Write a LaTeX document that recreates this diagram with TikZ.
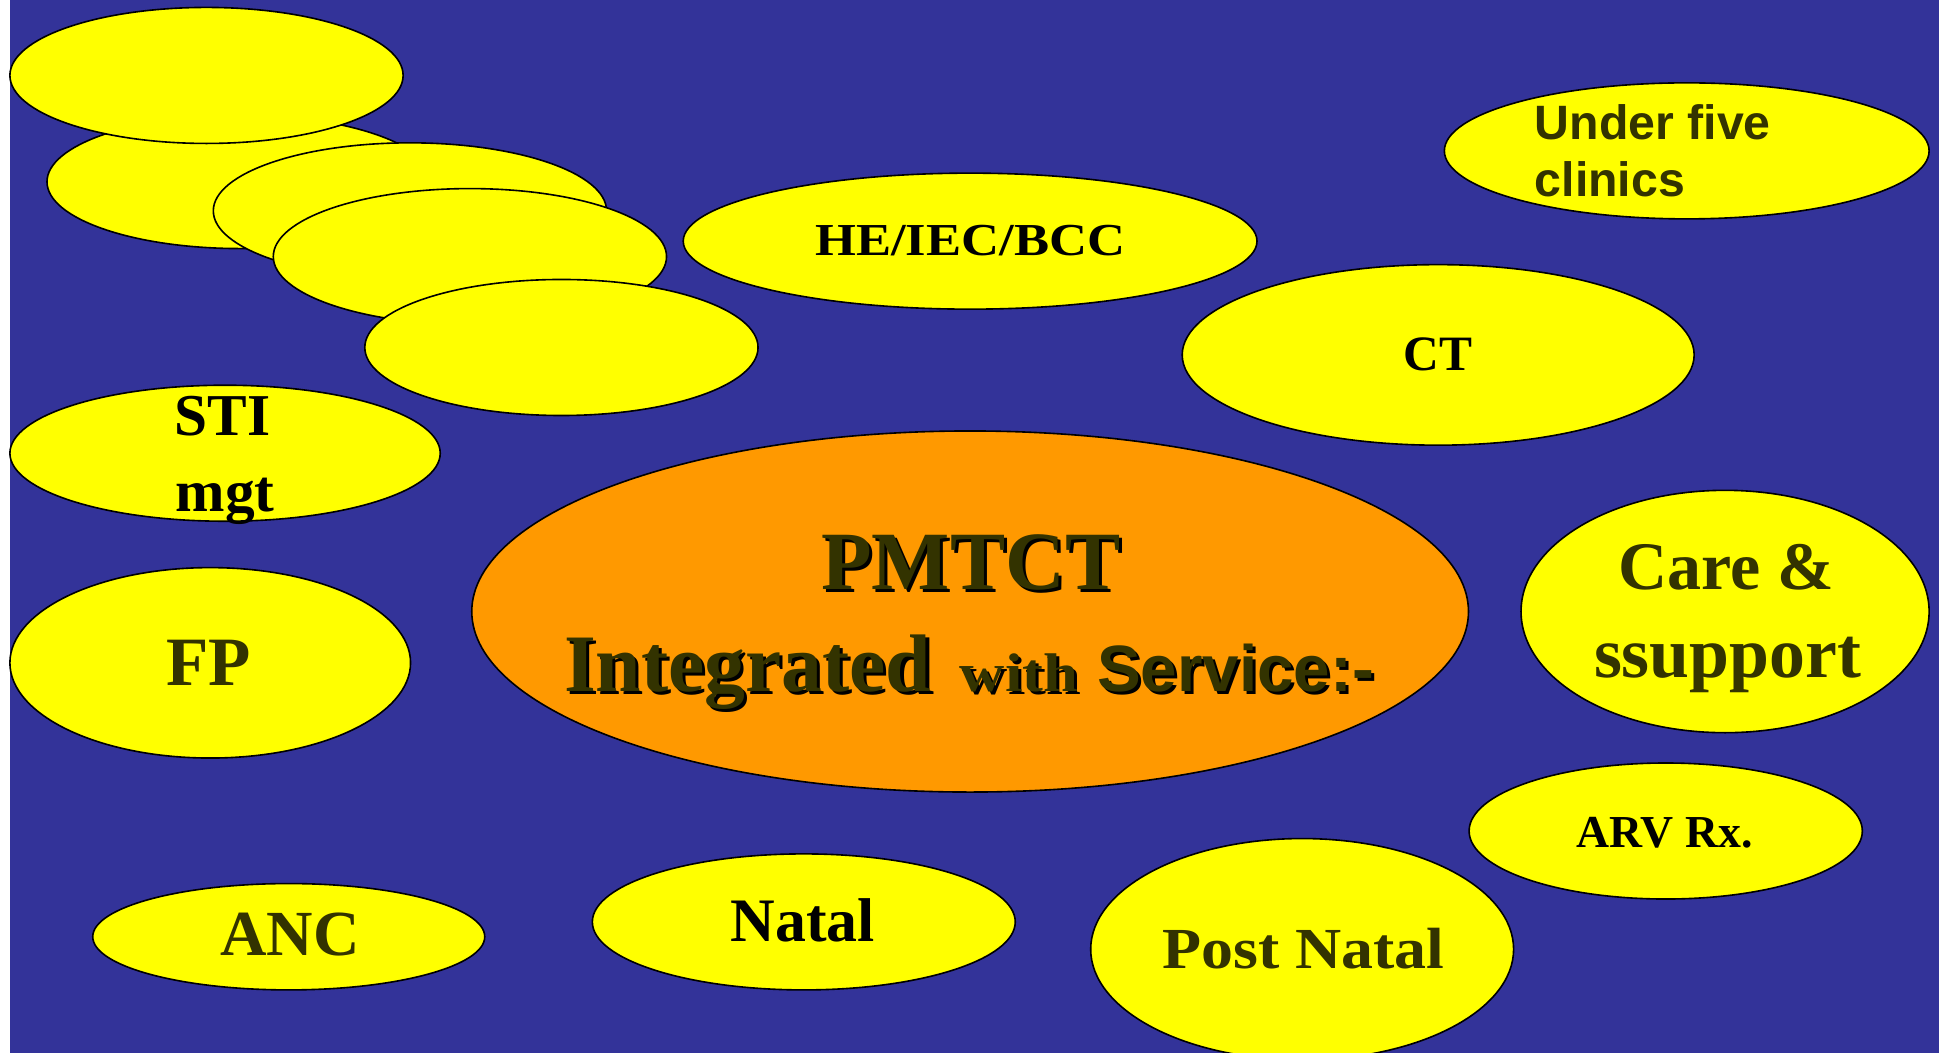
\documentclass[tikz,border=0pt]{standalone}
\usepackage{fontspec}
\setmainfont{Liberation Serif}
\setsansfont{Liberation Sans}
\usetikzlibrary{shapes.geometric}
\definecolor{bg}{HTML}{333399}
\definecolor{yel}{HTML}{FFFF00}
\definecolor{org}{HTML}{FF9900}
\definecolor{olive}{HTML}{333300}
\newcommand\fsz[1]{\fontsize{#1}{#1}\selectfont\bfseries}
\newcommand\hsc[2]{\scalebox{#1}[1]{#2}}
\begin{document}
\begin{tikzpicture}[x=1pt,y=-1pt,
  blob/.style={ellipse, draw=black, line width=1.3pt, fill=yel, inner sep=0pt},
  lbl/.style={anchor=base, inner sep=0pt, text=black},
  olbl/.style={lbl, text=olive},
  shd/.style={lbl, text=black},
]
\useasboundingbox (0,0) rectangle (1568,851.5);
\clip (0,0) rectangle (1568,851.5);
\fill[white] (0,0) rectangle (1568,851.5);
\fill[bg] (8,0) rectangle (1568,851.5);

% stacked unlabeled ellipses
\node[blob, minimum width=312pt, minimum height=108pt] (eB) at (194,147) {};
\node[blob, minimum width=318pt, minimum height=110pt] (eA) at (167,61) {};
\node[blob, minimum width=318pt, minimum height=110pt] (eC) at (331.5,170.5) {};
\node[blob, minimum width=318pt, minimum height=110pt] (eD) at (380,207.5) {};
\node[blob, minimum width=318pt, minimum height=110pt] (eE) at (454,281) {};

% labelled ellipses
\node[blob, minimum width=348pt, minimum height=110pt] (sti) at (182,366.5) {};
\node[blob, minimum width=464pt, minimum height=110pt] (he) at (784.5,195) {};
\node[blob, minimum width=392pt, minimum height=110pt] (u5) at (1364,122) {};
\node[blob, minimum width=414pt, minimum height=146pt] (ct) at (1163,287) {};
\node[blob, fill=org, minimum width=806pt, minimum height=292pt] (pm) at (784.5,494.5) {};
\node[blob, minimum width=324pt, minimum height=154pt] (fp) at (170,536) {};
\node[blob, minimum width=330pt, minimum height=196pt] (care) at (1395,494.5) {};
\node[blob, minimum width=318pt, minimum height=110pt] (arv) at (1347,672) {};
\node[blob, minimum width=317pt, minimum height=86pt] (anc) at (233.5,757.5) {};
\node[blob, minimum width=342pt, minimum height=110pt] (natal) at (650,745.5) {};
\node[blob, minimum width=342pt, minimum height=179pt] (post) at (1053,767.6) {};

% central texts with shadow
\node[shd, font=\fsz{67}] (tPMs) at (787.5,479.5) {PMTCT};
\node[olbl, font=\fsz{67}] (tPM) at (785,477) {PMTCT};
\node[shd, anchor=base west, font=\fsz{66}] (tINs) at (458.5,561.5) {Integrated};
\node[olbl, anchor=base west, font=\fsz{66}] (tIN) at (456,559) {Integrated};
\node[shd, anchor=base west, font=\fsz{44}] (tWIs) at (778.5,561.5) {\hsc{1.15}{with}};
\node[olbl, anchor=base west, font=\fsz{44}] (tWI) at (776,559) {\hsc{1.15}{with}};
\node[shd, anchor=base west, font=\sffamily\fsz{53}] (tSEs) at (889.5,561.5) {Service:-};
\node[olbl, anchor=base west, font=\sffamily\fsz{53}] (tSE) at (887,559) {Service:-};

% other labels
\node[olbl, font=\fsz{55}] (tCare) at (1396,477) {Care \&};
\node[olbl, font=\fsz{58}] (tSup) at (1397,548) {ssupport};
\node[lbl, font=\fsz{37}] (tHE) at (784.5,207) {\hsc{1.15}{HE/IEC/BCC}};
\node[lbl, font=\fsz{48}] (tSTI) at (180,352) {STI};
\node[lbl, font=\fsz{48}] (tMgt) at (182,414) {mgt};
\node[olbl, font=\fsz{56}] (tFP) at (169,554) {FP};
\node[lbl, font=\fsz{37}] (tARV) at (1346,685) {ARV Rx.};
\node[olbl, font=\fsz{47}] (tPost) at (1054,783) {\hsc{1.1}{Post Natal}};
\node[olbl, font=\fsz{52}] (tANC) at (234.5,773) {ANC};
\node[lbl, font=\fsz{50}] (tNatal) at (649,761.5) {Natal};
\node[lbl, font=\fsz{40}] (tCT) at (1163,300) {CT};
\node[olbl, anchor=base west, font=\sffamily\fsz{39}] (tU5a) at (1241,112.7) {Under five};
\node[olbl, anchor=base west, font=\sffamily\fsz{39}] (tU5b) at (1241,159) {clinics};
\end{tikzpicture}
\end{document}
